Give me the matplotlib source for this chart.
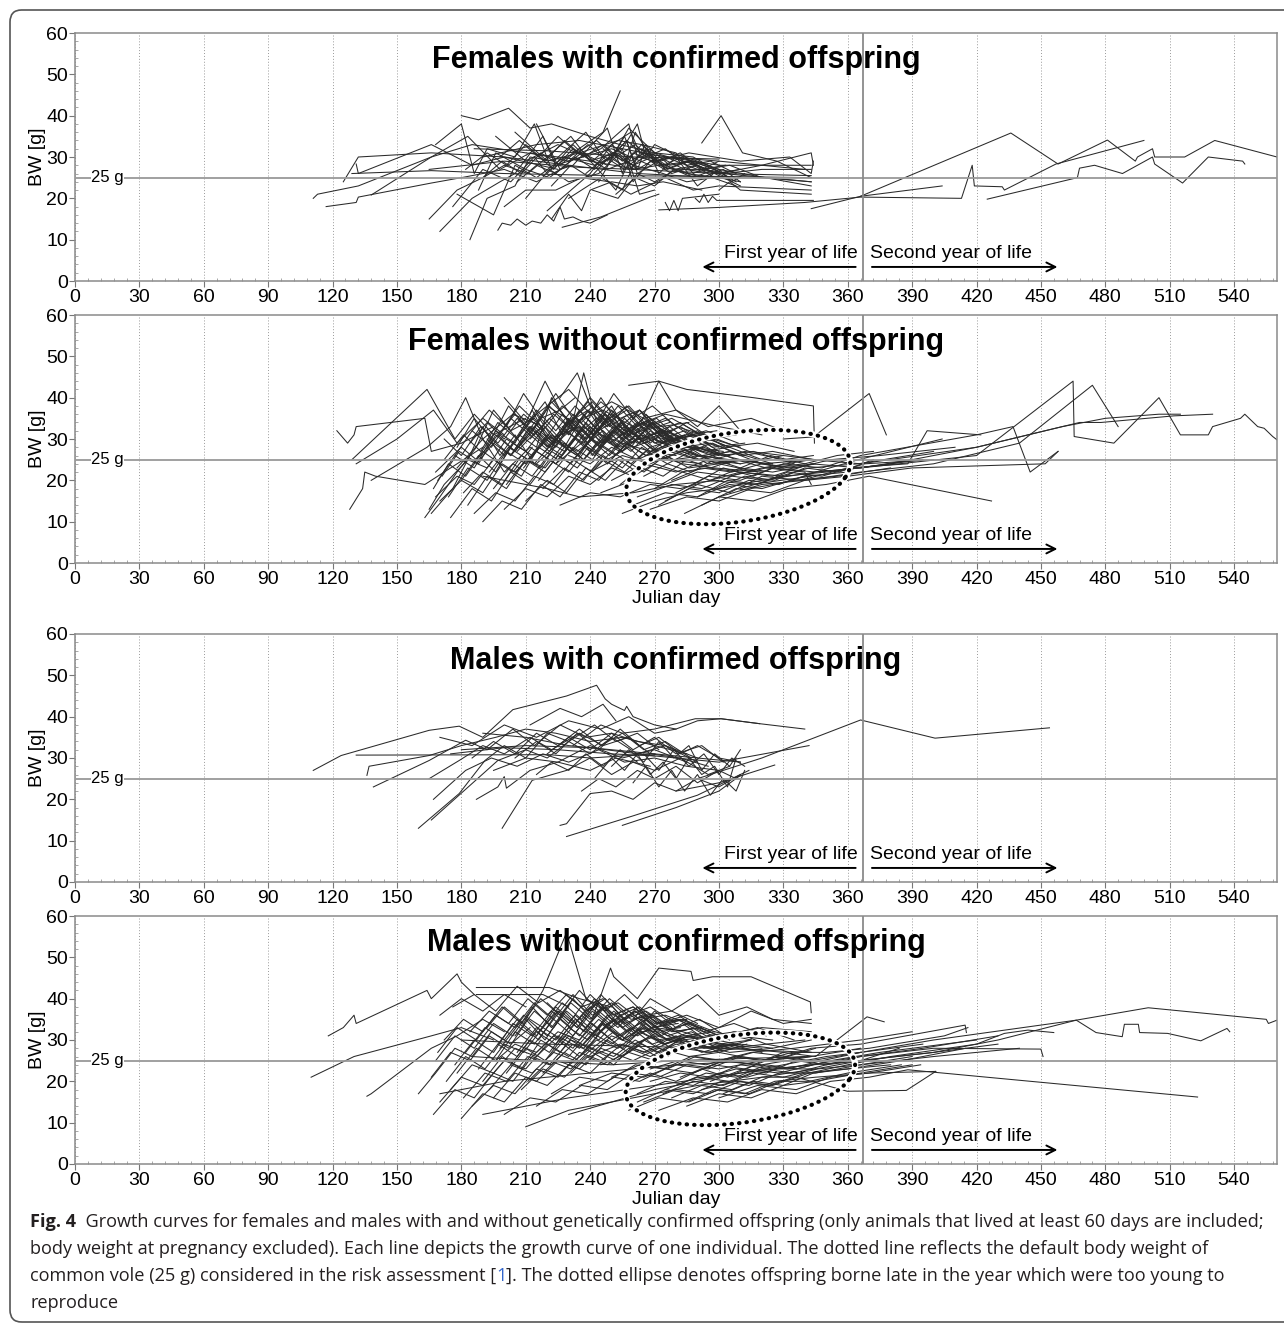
import numpy as np
import matplotlib
matplotlib.use("Agg")
import matplotlib.pyplot as plt
from matplotlib.patches import FancyBboxPatch
from matplotlib.ticker import MultipleLocator

plt.rcParams["font.family"] = ["Liberation Sans", "DejaVu Sans"]

# ---- data: one growth curve per individual, (Julian day, body weight g) ----
females_with = [
    [(111, 20), (113, 21), (132, 23), (166, 30), (185, 33), (210, 31), (240, 29), (262, 27)],
    [(125, 24), (132, 30), (166, 31), (200, 30), (230, 28), (262, 26), (300, 25)],
    [(129, 26), (166, 26.7), (200, 26), (250, 25.5), (300, 25.3), (343, 25)],
    [(117, 18), (131, 19), (132, 20.3), (166, 23.7), (180, 25), (200, 27), (215, 24), (230, 28)],
    [(131, 28.3), (132, 26), (166, 33), (185, 28), (200, 30), (225, 27)],
    [(138, 20.8), (166, 30), (183, 35), (198, 27), (212, 31), (230, 29), (250, 32), (268, 28)],
    [(180, 40), (188, 39), (202, 41.8), (212, 37), (222, 38), (240, 35), (254, 33), (270, 31), (290, 28)],
    [(168, 33), (180, 38), (186, 26), (192, 32), (205, 30), (214, 38), (222, 27), (232, 31), (246, 36), (254, 46)],
    [(197, 12.3), (199, 14), (203, 13.5), (206, 15), (210, 13.5), (213, 14.5), (217, 14), (220, 16),
     (223, 14.5), (226, 17.9), (228, 15), (232, 15.5), (236, 14.5), (240, 14), (248, 16)],
    [(227, 13), (245, 15.5), (268, 20.3), (272, 21)],
    [(272, 17.2), (300, 17.8), (340, 19), (366, 20.3), (413, 20), (418, 28), (419, 23), (432, 22.8),
     (433, 22), (457, 28.3), (498, 34)],
    [(275, 19), (277, 17), (279, 19.5), (281, 17), (283, 20), (300, 21)],
    [(289, 20), (291, 19), (293, 21), (295, 19), (297, 20.5), (299, 19.5), (344, 19.5)],
    [(292, 33.4), (301, 40), (311, 31), (327, 29), (343, 25)],
    [(300, 26), (320, 28), (343, 31), (344, 28)],
    [(343, 17.5), (366, 20.5), (436, 35.8), (458, 28.3), (481, 34.1), (494, 29), (495, 30), (502, 32),
     (503, 30), (517, 30), (531, 34), (560, 30)],
    [(366, 20.5), (404, 23)],
    [(425, 19.8), (467, 25), (468, 27.3), (475, 28), (488, 26), (502, 30), (503, 28.3), (516, 23.7),
     (528, 30), (544, 29), (545, 28.3)],
    [(165, 15), (178, 22), (190, 25), (200, 28), (211, 26), (220, 30), (231, 35), (240, 29), (252, 31),
     (260, 27), (272, 28), (285, 26), (300, 25), (310, 24)],
    [(170, 12), (185, 20), (198, 24), (205, 26), (218, 35), (224, 28), (236, 30), (245, 32), (258, 38),
     (262, 30), (270, 29), (280, 27), (292, 27), (305, 26)],
    [(176, 18), (190, 27), (203, 24), (214, 30), (220, 26), (232, 33), (242, 28), (250, 30), (257, 34),
     (262, 26), (275, 30), (290, 27), (302, 26), (343, 24)],
    [(184, 10), (192, 20), (205, 23), (212, 30), (223, 29), (238, 36), (246, 30), (255, 32), (260, 24),
     (268, 29), (278, 26), (290, 28), (310, 23)],
    [(188, 22), (196, 31), (210, 27), (221, 25), (236, 31), (248, 28), (258, 37), (262, 35), (270, 31),
     (288, 30), (305, 25)],
    [(200, 18), (210, 22), (224, 22), (236, 25), (249, 24), (259, 21), (263, 22), (275, 25), (288, 22),
     (300, 23), (343, 22)],
    [(210, 20), (221, 27), (230, 24), (244, 26), (252, 30), (260, 28), (274, 26), (285, 24), (297, 25), (308, 23)],
    [(165, 27), (200, 29), (235, 27.5), (260, 27), (300, 26), (343, 25.5)],
    [(186, 32), (220, 31.5), (260, 30), (300, 29.5)],
    [(230, 20), (245, 25), (255, 22), (262, 30), (266, 33), (272, 26), (280, 30), (290, 23), (300, 27),
     (306, 24), (312, 26)],
    [(215, 38), (226, 27), (232, 28), (248, 37), (255, 26), (261, 36), (270, 29), (286, 31), (310, 29),
     (333, 30), (343, 26), (344, 29)],
    [(241, 22), (253, 20), (262, 26), (270, 24), (280, 27), (292, 25), (302, 27), (310, 24)],
    [(220, 17), (240, 26), (250, 33), (259, 36), (263, 31), (276, 30), (300, 29), (340, 27)],
    [(196, 35), (210, 29), (225, 33), (238, 30), (248, 27), (258, 29), (263, 21), (270, 22)],
    [(244, 24), (256, 35), (262, 27), (266, 32), (275, 27), (285, 29), (298, 25)],
    [(178, 21), (195, 16), (205, 28), (215, 25), (228, 30), (242, 28), (252, 22), (260, 31), (273, 28)],
    [(254, 31), (262, 38), (266, 30), (270, 33), (278, 31), (290, 29), (300, 27), (343, 23)],
    [(190, 30), (215, 33), (235, 34), (270, 30.5), (300, 28), (343, 28)],
    [(222, 15), (230, 21), (236, 17), (240, 22), (250, 24), (262, 23), (274, 24), (292, 22)],
    [(300, 22), (305, 24), (310, 22), (343, 21)],
    [(205, 36), (220, 29), (235, 31), (253, 34), (264, 33), (280, 31), (288, 26), (300, 29)],
    [(182, 27), (192, 31), (201, 28), (210, 33), (219, 29), (228, 34), (237, 30), (246, 33), (255, 29),
     (264, 32), (274, 28), (286, 29), (300, 27)],
    [(190, 25), (199, 29), (208, 26), (217, 31), (226, 28), (235, 32), (244, 28), (253, 31), (262, 27),
     (272, 30), (284, 27), (298, 26)],
    [(198, 30), (207, 34), (216, 30), (225, 35), (234, 31), (243, 34), (252, 30), (261, 33), (270, 29),
     (281, 30), (295, 28)],
    [(206, 24), (215, 28), (224, 26), (233, 30), (242, 27), (251, 31), (260, 28), (269, 30), (279, 27),
     (290, 28), (304, 25)],
    [(214, 31), (223, 27), (232, 32), (241, 29), (250, 33), (259, 29), (268, 32), (277, 28), (288, 29),
     (302, 26), (320, 27), (343, 27)],
    [(222, 23), (231, 28), (240, 25), (249, 30), (258, 27), (267, 31), (276, 27), (286, 29), (298, 26), (310, 27)],
    [(230, 29), (239, 33), (248, 29), (257, 34), (266, 30), (275, 32), (285, 28), (296, 29), (308, 26)],
    [(238, 26), (247, 30), (256, 27), (265, 31), (274, 28), (283, 30), (293, 27), (305, 28), (320, 25), (343, 24)],
    [(246, 32), (255, 28), (264, 33), (273, 29), (282, 31), (292, 27), (303, 28)],
    [(252, 21), (261, 25), (270, 23), (279, 27), (288, 25), (298, 27), (308, 24)],
]

females_without = [
    [(122, 32), (127, 29), (130, 31), (131, 33), (163, 35), (166, 27), (180, 29), (195, 33)],
    [(128, 13), (134, 18), (135, 22), (140, 21), (163, 19), (178, 24), (190, 28)],
    [(129, 25), (164, 42), (177, 30), (186, 36), (195, 31), (210, 35)],
    [(138, 20), (164, 28), (175, 33), (182, 40), (190, 30), (204, 36), (218, 33)],
    [(131, 24), (150, 30), (167, 37), (178, 29), (190, 35), (200, 31)],
    [(163, 11), (170, 16), (178, 22), (187, 28), (195, 37), (203, 32), (214, 35), (222, 30), (235, 33), (243, 29)],
    [(165, 13), (172, 19), (183, 25), (192, 23), (201, 30), (210, 27), (219, 33), (228, 28), (237, 36),
     (245, 31), (255, 29), (268, 27), (280, 26)],
    [(166, 12), (176, 18), (184, 26), (190, 33), (198, 26), (205, 31), (214, 24), (224, 30), (234, 27),
     (246, 32), (254, 28), (263, 30), (276, 25), (292, 24)],
    [(167, 18), (174, 24), (182, 21), (190, 27), (198, 24), (207, 31), (215, 28), (222, 40), (230, 34),
     (239, 37), (248, 30), (256, 35), (264, 31), (275, 29), (290, 26)],
    [(168, 22), (180, 28), (187, 25), (196, 32), (205, 29), (213, 37), (220, 30), (231, 32), (237, 46),
     (243, 34), (250, 38), (258, 31), (270, 33), (285, 30)],
    [(170, 15), (180, 20), (190, 17), (199, 24), (208, 21), (216, 28), (225, 25), (234, 31), (243, 27),
     (252, 33), (262, 29), (272, 31), (285, 28), (300, 26)],
    [(172, 25), (181, 31), (189, 27), (197, 34), (206, 30), (215, 36), (224, 29), (233, 33), (241, 26),
     (250, 32), (259, 28), (268, 34), (278, 30), (292, 27)],
    [(175, 11), (185, 18), (194, 15), (203, 22), (212, 19), (221, 25), (230, 22), (239, 28), (248, 24),
     (257, 29), (266, 26), (277, 27), (290, 25), (305, 24)],
    [(178, 28), (186, 35), (194, 30), (202, 38), (210, 33), (219, 39), (227, 31), (236, 35), (245, 29),
     (254, 34), (263, 30), (273, 32), (283, 29)],
    [(180, 20), (188, 26), (196, 22), (204, 29), (213, 26), (222, 31), (231, 27), (240, 33), (249, 29),
     (258, 32), (268, 28), (280, 30), (295, 27), (310, 25)],
    [(183, 14), (192, 21), (201, 18), (210, 25), (219, 23), (228, 29), (237, 25), (246, 31), (255, 27),
     (264, 33), (273, 29), (285, 31), (300, 28)],
    [(185, 32), (193, 37), (201, 33), (209, 41), (217, 35), (226, 37), (234, 31), (243, 35), (252, 30),
     (262, 34), (272, 29), (284, 31)],
    [(187, 24), (195, 29), (203, 26), (212, 33), (220, 28), (229, 34), (238, 30), (247, 36), (256, 31),
     (265, 35), (275, 30), (288, 28), (305, 26)],
    [(190, 10), (199, 15), (208, 13), (217, 19), (226, 16), (235, 22), (244, 20), (253, 25), (262, 22),
     (272, 26), (283, 24), (298, 23), (320, 22)],
    [(192, 30), (200, 26), (209, 33), (218, 29), (227, 36), (236, 32), (245, 40), (254, 33), (263, 37),
     (272, 31), (282, 33), (295, 29)],
    [(195, 18), (204, 24), (213, 21), (222, 27), (231, 24), (240, 30), (249, 26), (258, 31), (268, 27),
     (278, 29), (290, 26), (305, 25), (325, 24)],
    [(198, 35), (206, 30), (215, 37), (224, 32), (233, 38), (242, 33), (251, 41), (260, 35), (269, 38),
     (280, 33), (293, 31)],
    [(200, 13), (210, 18), (220, 16), (230, 21), (240, 19), (250, 23), (260, 21), (270, 24), (282, 22),
     (295, 23), (310, 22), (330, 21)],
    [(203, 26), (212, 31), (221, 27), (230, 34), (239, 29), (248, 35), (257, 30), (266, 36), (275, 31),
     (285, 34), (297, 30), (310, 28)],
    [(205, 22), (215, 27), (224, 24), (233, 30), (242, 26), (251, 32), (260, 28), (270, 30), (281, 27),
     (293, 28), (308, 25)],
    [(208, 29), (217, 35), (226, 30), (235, 37), (244, 32), (253, 38), (262, 33), (271, 35), (281, 30),
     (294, 32), (309, 29)],
    [(210, 15), (220, 20), (229, 17), (238, 23), (247, 20), (256, 25), (265, 22), (275, 26), (286, 23),
     (300, 24), (318, 22)],
    [(213, 33), (222, 28), (231, 35), (240, 30), (249, 36), (258, 31), (267, 34), (276, 29), (288, 31), (300, 27)],
    [(215, 24), (225, 29), (234, 26), (243, 32), (252, 28), (261, 33), (270, 29), (280, 31), (292, 27),
     (305, 28), (320, 25)],
    [(218, 18), (228, 23), (237, 20), (246, 26), (255, 23), (264, 28), (273, 25), (283, 27), (295, 24),
     (310, 25), (330, 23)],
    [(258, 43), (272, 44), (285, 42), (316, 40), (344, 38), (344.5, 29)],
    [(265, 36), (272, 44), (280, 37), (290, 33), (300, 38), (310, 32)],
    [(220, 38), (230, 42), (240, 36), (250, 39), (265, 35), (280, 37), (295, 33), (315, 35), (330, 32), (343, 31)],
    [(226, 40), (234, 46), (240, 38), (248, 33)],
    [(212, 36), (219, 44), (226, 37), (233, 40)],
    [(330, 30), (344, 30.5), (370, 41), (378, 31)],
    [(255, 12), (270, 15), (285, 17), (300, 18), (320, 20), (345, 22), (366, 23), (390, 25)],
    [(260, 14), (275, 17), (290, 16), (305, 19), (320, 18), (340, 21), (360, 22)],
    [(262, 16), (278, 19), (292, 18), (306, 21), (322, 20), (342, 23), (365, 24), (400, 27)],
    [(268, 13), (285, 16), (300, 15), (315, 18), (335, 20), (355, 21), (380, 23)],
    [(270, 18), (283, 22), (296, 20), (310, 23), (325, 22), (345, 24)],
    [(275, 15), (290, 19), (305, 17), (320, 21), (338, 20), (360, 23), (388, 24), (397, 32), (422, 31)],
    [(280, 17), (295, 21), (310, 20), (325, 23), (345, 22), (365, 25), (404, 30)],
    [(284, 12), (300, 16), (316, 15), (332, 18), (350, 19), (370, 21), (427, 15)],
    [(288, 19), (302, 23), (316, 21), (330, 24), (348, 23), (366, 26), (420, 31), (437, 33), (445, 22), (458, 27)],
    [(292, 14), (308, 18), (324, 17), (340, 20), (360, 21), (390, 23), (452, 24), (458, 27)],
    [(296, 20), (310, 22), (325, 21), (343, 24), (366, 23), (420, 26), (465, 44), (465.5, 30.6), (484, 29),
     (505, 40), (515, 31), (528, 31), (530, 33), (543, 35), (545, 36), (551, 33), (554, 32.6), (558, 30.6), (562, 29)],
    [(300, 16), (320, 19), (340, 20), (366, 22), (400, 24), (440, 29), (474, 43), (486, 33)],
    [(305, 21), (320, 23), (343, 25), (366, 24), (420, 28), (468, 34), (478, 34), (512, 35.6), (530, 36)],
    [(310, 18), (330, 21), (350, 22), (380, 24), (420, 28), (460, 33), (480, 35), (505, 36), (515, 36)],
    [(250, 20), (265, 24), (280, 22), (295, 25), (310, 24), (330, 26), (345, 25)],
    [(245, 17), (260, 20), (275, 19), (290, 22), (305, 21), (322, 23), (340, 22), (343, 19)],
    [(240, 22), (255, 26), (268, 24), (282, 27), (297, 25), (312, 27), (330, 25), (344, 26)],
    [(226, 14), (240, 17), (254, 16), (268, 19), (282, 18), (296, 20), (315, 19), (343, 21)],
    [(190, 21), (220, 18), (235, 16), (260, 17), (280, 19), (300, 20)],
    [(178, 23), (190, 30), (200, 22), (212, 28), (224, 24), (236, 29), (248, 25), (258, 28), (266, 24)],
    [(172, 30), (180, 26), (189, 33), (197, 29), (206, 35), (214, 31), (223, 36), (232, 32), (241, 38),
     (249, 33), (258, 36), (267, 31), (278, 32)],
    [(169, 20), (177, 26), (186, 23), (194, 30), (203, 26), (212, 33), (221, 28), (230, 35), (238, 30),
     (247, 36), (256, 32), (265, 34), (277, 30), (290, 31), (305, 28)],
    [(230, 26), (240, 24), (250, 28), (262, 25), (275, 28), (290, 25), (305, 27), (320, 24), (344, 25)],
    [(200, 40), (210, 34), (220, 38), (232, 34), (246, 37), (260, 33), (275, 36), (300, 33), (320, 31)],
    [(171, 21), (179, 27), (188, 24), (196, 31), (205, 27), (214, 34), (223, 29), (232, 35), (241, 30),
     (250, 37), (259, 32), (268, 35), (279, 31)],
    [(174, 16), (183, 23), (192, 20), (201, 27), (210, 24), (219, 30), (228, 27), (237, 33), (246, 29),
     (255, 34), (264, 30), (274, 32), (288, 29)],
    [(177, 26), (185, 32), (194, 28), (203, 35), (212, 31), (221, 38), (230, 33), (239, 39), (248, 34),
     (257, 37), (266, 32), (277, 34)],
    [(181, 17), (190, 22), (199, 19), (208, 26), (217, 23), (226, 30), (235, 26), (244, 33), (253, 28),
     (262, 31), (272, 27), (286, 28), (302, 25)],
    [(184, 29), (192, 34), (200, 30), (209, 36), (218, 32), (227, 38), (236, 34), (245, 39), (254, 35),
     (263, 37), (273, 33), (286, 34)],
    [(186, 12), (196, 17), (205, 15), (214, 21), (223, 19), (232, 25), (241, 22), (250, 27), (259, 24),
     (268, 28), (279, 25), (293, 26), (310, 24)],
    [(189, 26), (197, 31), (205, 27), (214, 33), (223, 29), (232, 36), (241, 31), (250, 34), (259, 29),
     (268, 33), (278, 29), (292, 30)],
    [(193, 22), (202, 28), (211, 25), (220, 31), (229, 28), (238, 34), (247, 29), (256, 33), (265, 29),
     (275, 31), (287, 28), (302, 27)],
    [(197, 31), (205, 36), (213, 32), (222, 39), (231, 34), (240, 40), (249, 35), (258, 38), (267, 33),
     (278, 35), (292, 31)],
    [(201, 19), (210, 25), (219, 22), (228, 28), (237, 25), (246, 30), (255, 27), (264, 31), (274, 28),
     (286, 29), (300, 26)],
    [(206, 27), (215, 32), (224, 28), (233, 35), (242, 31), (251, 36), (260, 31), (269, 34), (279, 30),
     (291, 31), (305, 28)],
    [(209, 23), (218, 29), (227, 26), (236, 32), (245, 28), (254, 33), (263, 29), (272, 32), (283, 28),
     (296, 29), (312, 26)],
    [(212, 30), (221, 35), (230, 31), (239, 37), (248, 33), (257, 38), (266, 33), (275, 35), (286, 31), (299, 32)],
    [(216, 20), (225, 26), (234, 23), (243, 29), (252, 26), (261, 31), (270, 27), (280, 30), (292, 26),
     (306, 27), (325, 24)],
    [(219, 27), (228, 32), (237, 29), (246, 35), (255, 30), (264, 34), (273, 30), (284, 32), (297, 28), (312, 29)],
    [(223, 22), (232, 28), (241, 25), (250, 31), (259, 27), (268, 32), (277, 28), (288, 30), (301, 26),
     (316, 27), (335, 24)],
    [(227, 33), (236, 29), (245, 36), (254, 31), (263, 37), (272, 32), (282, 34), (294, 30), (308, 31)],
    [(232, 25), (241, 30), (250, 27), (259, 33), (268, 29), (277, 33), (287, 29), (299, 30), (314, 27), (330, 26)],
    [(236, 20), (246, 25), (256, 22), (266, 27), (276, 24), (287, 27), (299, 24), (313, 25), (330, 23), (344, 24)],
    [(242, 28), (251, 33), (260, 29), (269, 34), (279, 30), (290, 32), (303, 28), (318, 29), (335, 27)],
    [(248, 24), (257, 29), (266, 26), (276, 30), (286, 27), (297, 29), (310, 26), (325, 27), (344, 25)],
    [(254, 19), (264, 23), (274, 21), (285, 25), (296, 23), (308, 25), (322, 23), (340, 24)],
    [(265, 21), (276, 24), (287, 22), (298, 25), (310, 23), (324, 26), (340, 24), (355, 26), (372, 27)],
    [(272, 14), (286, 18), (300, 17), (314, 20), (328, 19), (345, 22), (365, 23), (395, 25)],
    [(278, 20), (292, 23), (306, 22), (320, 24), (336, 23), (352, 25), (375, 26), (410, 28)],
    [(290, 16), (304, 20), (318, 19), (332, 22), (348, 21), (368, 24), (400, 25)],
    [(298, 18), (312, 21), (326, 20), (340, 23), (356, 22), (372, 25)],
    [(168, 16), (178, 21), (186, 19), (195, 25), (204, 22), (213, 28)],
    [(200, 33), (207, 38), (215, 34), (224, 41), (232, 35), (241, 39), (250, 34)],
]

males_with = [
    [(111, 27), (124, 30.6), (165, 36.7), (179, 37.7), (190, 35), (204, 41.7), (229, 45), (243, 47.6),
     (247, 44.3), (250, 43), (256, 41.5), (257, 42.5), (260, 40), (270, 38), (280, 37)],
    [(131, 30.7), (221, 30.8), (240, 30), (270, 31)],
    [(136, 25.8), (137, 28), (165, 30.6), (180, 33), (196, 35), (210, 37), (224, 36), (240, 34), (255, 35),
     (270, 33), (285, 31)],
    [(139, 23), (165, 29.4), (182, 34.3), (192, 32), (204, 37), (214, 33), (226, 38), (238, 35), (250, 36),
     (262, 34), (275, 33), (290, 30)],
    [(165, 25), (179, 29.4), (190, 33), (200, 31), (212, 35), (222, 32), (235, 36), (246, 33), (258, 35),
     (268, 31), (282, 30), (295, 28)],
    [(160, 13), (179, 21.4), (191, 29.4), (200, 33), (210, 30), (220, 36), (230, 34), (242, 38), (252, 34),
     (262, 36), (272, 32)],
    [(166, 15), (197, 29.4), (210, 32), (220, 30), (230, 34), (240, 31), (250, 35), (262, 31), (275, 33), (290, 29)],
    [(167, 20), (182, 27), (194, 30), (206, 28), (218, 31), (230, 29), (244, 32), (256, 29), (270, 30),
     (285, 28), (300, 27)],
    [(187, 20), (197, 23), (200, 25.5), (201, 22.7), (212, 27), (225, 29), (240, 27), (252, 30), (268, 28)],
    [(199, 13), (213, 24.6), (229, 27), (240, 30), (250, 26), (260, 29), (270, 27), (282, 30), (295, 26), (305, 28)],
    [(226, 13.7), (229, 14.1), (240, 21.4), (250, 22), (260, 20), (270, 24), (280, 22), (290, 25), (300, 23), (310, 26)],
    [(229, 11), (260, 16), (290, 21), (314, 27)],
    [(255, 13.7), (280, 18), (300, 22), (310, 25.8)],
    [(170, 35), (185, 33), (200, 38), (215, 35), (230, 39), (245, 37), (258, 40), (270, 36), (280, 37),
     (290, 39), (301, 39.5), (319, 38.3)],
    [(205, 30), (215, 34), (224, 31), (234, 36), (244, 32), (254, 37), (263, 33), (272, 35), (282, 31),
     (290, 33), (300, 30), (310, 29)],
    [(190, 36), (210, 35), (230, 33), (250, 32), (270, 31), (290, 30), (310, 29)],
    [(180, 32), (210, 33), (240, 32.5), (270, 30.5), (300, 29), (342, 33)],
    [(242, 25), (250, 30), (256, 27), (262, 31), (268, 26), (274, 29), (280, 25), (286, 30), (292, 26),
     (298, 28), (304, 23), (308, 30)],
    [(260, 24), (266, 28), (272, 23), (278, 27), (284, 22), (290, 26), (296, 21), (302, 25), (308, 22), (312, 27)],
    [(250, 28), (258, 32), (265, 29), (272, 34), (279, 30), (286, 33), (292, 27), (298, 31), (305, 28), (310, 32)],
    [(236, 22), (244, 25), (252, 23), (262, 27), (270, 25), (280, 28), (290, 24), (300, 27), (308, 25)],
    [(232, 33), (245, 38), (255, 36), (270, 37), (289, 39.5), (301, 39.5), (319, 38.3), (340, 37)],
    [(290, 25), (320, 30), (366, 39.2), (400.7, 34.8), (454, 37.3)],
    [(280, 22), (300, 24), (326, 28.3)],
    [(212, 38), (226, 42), (236, 40), (246, 43), (252, 39)],
    [(175, 31), (200, 32.5), (225, 32), (250, 31), (270, 30.5)],
    [(215, 26), (222, 29), (230, 27), (238, 31), (246, 28), (254, 32), (262, 29)],
    [(185, 30), (195, 34), (205, 31), (215, 36), (225, 33), (235, 37), (245, 33), (255, 36), (265, 32),
     (275, 34), (287, 30)],
    [(220, 31), (230, 35), (240, 32), (250, 36), (260, 32), (270, 35), (280, 31), (292, 33), (302, 29)],
    [(265, 31), (272, 27), (279, 32), (286, 28), (293, 31), (300, 26), (306, 30), (312, 28)],
    [(195, 27), (210, 30), (225, 29), (240, 33), (255, 30), (270, 32), (285, 29)],
]

males_without = [
    [(118, 31), (125, 33), (130, 36), (131, 34), (164, 42), (166, 40), (178, 46), (180, 44), (186, 41)],
    [(110, 21), (130, 26), (166, 31), (180, 33), (195, 30)],
    [(136, 16.4), (138, 17), (166, 28), (178, 31), (190, 35), (200, 32)],
    [(166, 21), (175, 27), (184, 25), (193, 31), (202, 28), (211, 35), (220, 31), (229, 37), (238, 33),
     (247, 38), (256, 34), (266, 36), (278, 32), (292, 33)],
    [(167, 12), (177, 18), (186, 16), (195, 22), (204, 20), (213, 26), (222, 24), (232, 29), (241, 27),
     (250, 31), (260, 29), (271, 31), (285, 29), (300, 28)],
    [(168, 25), (177, 31), (186, 28), (195, 34), (204, 31), (213, 38), (222, 33), (231, 39), (240, 35),
     (249, 40), (258, 36), (268, 38), (280, 34)],
    [(170, 15), (180, 21), (190, 19), (200, 25), (210, 23), (220, 29), (230, 26), (240, 32), (250, 29),
     (260, 33), (271, 30), (284, 31), (300, 29), (320, 28)],
    [(172, 30), (181, 35), (190, 32), (199, 38), (208, 34), (217, 40), (226, 36), (235, 42), (244, 37),
     (253, 39), (263, 35), (275, 36), (290, 33)],
    [(175, 18), (185, 24), (195, 22), (205, 28), (215, 26), (225, 31), (235, 28), (245, 34), (255, 30),
     (265, 33), (276, 30), (290, 31), (308, 29)],
    [(178, 22), (187, 28), (196, 25), (205, 32), (214, 29), (223, 35), (232, 31), (241, 37), (250, 33),
     (259, 36), (269, 32), (282, 33)],
    [(180, 11), (190, 17), (200, 15), (210, 21), (220, 19), (230, 24), (240, 22), (250, 27), (260, 25),
     (272, 28), (286, 26), (300, 27), (320, 25)],
    [(182, 27), (191, 33), (200, 30), (209, 36), (218, 33), (227, 39), (236, 35), (245, 41), (254, 36),
     (263, 38), (273, 34), (285, 35)],
    [(185, 14), (195, 19), (205, 17), (215, 23), (225, 21), (235, 27), (245, 25), (255, 29), (265, 27),
     (276, 30), (290, 28), (306, 29)],
    [(187, 42.7), (221, 42.7), (235, 40), (250, 38)],
    [(187, 41), (218, 41), (230, 38)],
    [(190, 20), (199, 26), (208, 23), (217, 30), (226, 27), (235, 33), (244, 30), (253, 35), (262, 31),
     (272, 34), (284, 31), (298, 32), (315, 30)],
    [(192, 33), (200, 38), (209, 34), (218, 42), (229, 56), (238, 40), (247, 37), (256, 41), (266, 36),
     (278, 37), (290, 34)],
    [(195, 16), (205, 22), (215, 20), (225, 25), (235, 23), (245, 28), (255, 26), (265, 30), (276, 27),
     (290, 29), (305, 27), (325, 28)],
    [(198, 28), (207, 34), (216, 30), (225, 37), (234, 33), (243, 39), (252, 34), (261, 37), (271, 33),
     (283, 35), (298, 32)],
    [(200, 12), (212, 16), (224, 15), (236, 19), (248, 18), (260, 22), (272, 21), (285, 24), (300, 23),
     (320, 25), (340, 26)],
    [(203, 24), (212, 30), (221, 27), (230, 33), (239, 30), (248, 36), (257, 32), (266, 35), (276, 31),
     (288, 33), (302, 30)],
    [(205, 31), (214, 37), (223, 33), (232, 40), (241, 35), (249.5, 47.4), (251, 45.3), (262, 40),
     (272, 47.4), (287, 46.6), (288, 44.4), (297, 45.3), (315, 45.3), (342.6, 39.2), (343, 36.6)],
    [(208, 18), (218, 23), (228, 21), (238, 26), (248, 24), (258, 28), (268, 26), (280, 29), (294, 27),
     (310, 28), (330, 27)],
    [(210, 35), (219, 30), (228, 37), (237, 32), (246, 38), (255, 33), (264, 36), (274, 32), (286, 34),
     (300, 31), (320, 33), (343, 32)],
    [(213, 26), (223, 31), (232, 28), (241, 34), (250, 30), (259, 33), (269, 29), (280, 31), (293, 28), (308, 29)],
    [(215, 14), (227, 18), (239, 17), (251, 21), (263, 20), (275, 23), (288, 22), (302, 25), (320, 24),
     (343, 26), (366, 28)],
    [(218, 22), (228, 27), (238, 24), (248, 30), (258, 27), (268, 31), (278, 28), (290, 30), (305, 28),
     (322, 29), (343, 27)],
    [(220, 39), (230, 34), (240, 41), (250, 36), (260, 38), (272, 34), (285, 36), (300, 33), (315, 37),
     (330, 34), (343, 35)],
    [(222, 17), (235, 21), (248, 20), (261, 24), (274, 23), (287, 26), (300, 25), (315, 27), (335, 28),
     (366, 30), (390, 32)],
    [(225, 30), (235, 26), (245, 32), (255, 28), (265, 33), (275, 29), (287, 31), (300, 28), (315, 30)],
    [(230, 12), (250, 15), (270, 18), (290, 20), (310, 22), (330, 24), (350, 26), (366, 27)],
    [(235, 19), (250, 22), (265, 21), (280, 24), (295, 23), (310, 26), (325, 25), (343, 28), (366, 29),
     (414.7, 33.6), (415.3, 31.8)],
    [(258, 13), (272, 16), (285, 15), (298, 18), (312, 17), (326, 20), (345, 21), (370, 22), (401, 22.4)],
    [(262, 17), (275, 20), (288, 19), (300, 22), (313, 21), (327, 23), (345, 23), (366, 25), (384, 28)],
    [(265, 15), (280, 18), (295, 17), (310, 20), (325, 19), (342, 22), (360, 24), (380, 26), (420, 29),
     (433, 31.6), (444, 32.4), (456, 31.8)],
    [(268, 20), (282, 22), (296, 21), (310, 24), (325, 23), (343, 24), (366, 26), (400, 28), (450, 27.8), (451, 26)],
    [(272, 13), (288, 16), (304, 15), (320, 18), (336, 17), (352, 20), (370, 21), (388, 22.8), (523, 16.2)],
    [(275, 18), (290, 21), (305, 20), (320, 23), (335, 22), (350, 24), (365, 25), (400, 27), (430, 30),
     (466.5, 34.8), (500, 37.8), (555, 35), (556, 34), (560, 34.8)],
    [(278, 16), (292, 19), (306, 18), (320, 21), (336, 21), (359.8, 17.6), (387.3, 17.8), (401, 22.4)],
    [(282, 21), (297, 24), (312, 23), (327, 26), (343, 25), (366, 27), (400, 30), (466.5, 34.8), (475.7, 31.8),
     (487.9, 30.8), (488.9, 33.8), (495.4, 33.8), (496, 31.8), (509, 31.6), (524.5, 29.8), (536.7, 32.8), (538, 32)],
    [(285, 14), (300, 17), (315, 16), (330, 19), (345, 20), (366, 22), (390, 24)],
    [(288, 22), (302, 25), (316, 24), (330, 27), (345, 26), (369, 35.6), (377, 34.4)],
    [(292, 18), (308, 20), (324, 19), (340, 22), (360, 23), (385, 25), (415, 28)],
    [(296, 20), (312, 23), (328, 22), (344, 24), (366, 25), (400, 27), (430, 29)],
    [(300, 16), (318, 19), (336, 18), (352, 21), (370, 22), (394, 24)],
    [(245, 24), (258, 27), (270, 25), (283, 28), (296, 27), (310, 29), (325, 28), (343, 30)],
    [(250, 21), (263, 24), (276, 23), (289, 26), (302, 25), (316, 27), (332, 26), (345, 28)],
    [(240, 26), (254, 29), (266, 27), (280, 30), (294, 29), (308, 31), (325, 30)],
    [(185, 26), (215, 25), (250, 24), (280, 25), (310, 25.5), (343, 26)],
    [(180, 30), (220, 29), (260, 28.5), (300, 28), (343, 27)],
    [(170, 17), (200, 20), (240, 22), (280, 24), (320, 25), (343, 26)],
    [(190, 12), (230, 16), (270, 19), (310, 22), (343, 24)],
    [(196, 25), (205, 29), (215, 27), (225, 32), (235, 30), (244, 35), (254, 31), (263, 34), (272, 31)],
    [(260, 35), (268, 40), (278, 37), (290, 41), (300, 36), (313, 38), (325, 35), (343, 34)],
    [(176, 38), (186, 41), (196, 37), (206, 43), (216, 39), (226, 42), (236, 38), (246, 40)],
    [(210, 9), (230, 13), (250, 15), (270, 17), (290, 19), (320, 21), (345, 23)],
    [(228, 23), (240, 28), (252, 25), (264, 29), (276, 26), (288, 30), (300, 27), (313, 29)],
    [(160, 17), (168, 22), (177, 28), (185, 26), (194, 32), (203, 29), (212, 33)],
    [(169, 27), (178, 33), (187, 30), (196, 36), (205, 33), (214, 39), (223, 35), (232, 41), (241, 36),
     (250, 39), (259, 35), (270, 36)],
    [(173, 20), (182, 26), (191, 23), (200, 29), (209, 27), (218, 33), (227, 30), (236, 36), (245, 32),
     (254, 36), (264, 32), (276, 33), (290, 31)],
    [(177, 24), (186, 30), (195, 27), (204, 34), (213, 31), (222, 37), (231, 33), (240, 38), (249, 34),
     (258, 37), (268, 33), (281, 34)],
    [(181, 16), (191, 22), (201, 20), (211, 26), (221, 24), (231, 30), (241, 28), (251, 32), (261, 29),
     (272, 32), (285, 29), (300, 30)],
    [(184, 32), (193, 37), (202, 34), (211, 40), (220, 36), (229, 41), (238, 37), (247, 40), (256, 35),
     (266, 37), (278, 33)],
    [(188, 23), (197, 29), (206, 26), (215, 32), (224, 29), (233, 35), (242, 31), (251, 35), (260, 31),
     (270, 33), (283, 30), (298, 31)],
    [(193, 18), (203, 24), (213, 22), (223, 27), (233, 25), (243, 30), (253, 28), (263, 32), (274, 29),
     (287, 31), (302, 29)],
    [(197, 29), (206, 35), (215, 31), (224, 38), (233, 34), (242, 40), (251, 36), (260, 38), (270, 34),
     (282, 35), (296, 32)],
    [(201, 22), (210, 28), (219, 25), (228, 31), (237, 28), (246, 34), (255, 30), (264, 33), (274, 29),
     (286, 31), (300, 28)],
    [(206, 27), (215, 33), (224, 30), (233, 36), (242, 32), (251, 37), (260, 33), (269, 36), (279, 32),
     (291, 33), (305, 30)],
    [(211, 20), (221, 25), (231, 23), (241, 28), (251, 26), (261, 30), (271, 27), (282, 30), (295, 28), (310, 29)],
    [(216, 32), (225, 37), (234, 33), (243, 39), (252, 34), (261, 37), (270, 33), (281, 35), (294, 31), (308, 32)],
    [(221, 26), (230, 31), (239, 28), (248, 34), (257, 30), (266, 34), (276, 30), (287, 32), (300, 29), (315, 30)],
    [(226, 35), (235, 31), (244, 37), (253, 33), (262, 38), (271, 34), (281, 36), (293, 32), (307, 34), (322, 31)],
    [(231, 22), (241, 27), (251, 24), (261, 29), (271, 26), (281, 30), (292, 27), (305, 29), (320, 27)],
    [(237, 29), (246, 34), (255, 30), (264, 35), (273, 31), (283, 34), (294, 30), (307, 32), (322, 29), (340, 30)],
    [(243, 31), (252, 36), (261, 32), (270, 37), (280, 33), (291, 35), (303, 31), (318, 33), (335, 30)],
    [(256, 19), (268, 22), (280, 20), (292, 23), (304, 21), (317, 24), (332, 23), (348, 25), (366, 27), (395, 29)],
    [(262, 15), (275, 18), (288, 17), (301, 20), (314, 19), (328, 22), (345, 22), (366, 24), (390, 26)],
    [(268, 23), (281, 25), (294, 24), (307, 26), (320, 25), (334, 27), (350, 27), (370, 28), (405, 31), (416, 33)],
    [(274, 17), (288, 20), (302, 19), (316, 22), (330, 21), (346, 23), (366, 24), (400, 26), (440, 28)],
    [(280, 19), (294, 22), (308, 21), (322, 24), (336, 23), (352, 25), (375, 27), (420, 30)],
    [(286, 15), (300, 18), (314, 17), (328, 20), (342, 20), (360, 22), (385, 24)],
    [(294, 21), (308, 23), (322, 22), (336, 25), (350, 24), (366, 26), (395, 28), (430, 31)],
    [(302, 17), (316, 20), (330, 19), (344, 22), (360, 23), (380, 24)],
    [(170, 36), (180, 40), (190, 37), (200, 41), (210, 38)],
]

panel_titles = [
    "Females with confirmed offspring",
    "Females without confirmed offspring",
    "Males with confirmed offspring",
    "Males without confirmed offspring",
]
panel_curves = [females_with, females_without, males_with, males_without]
show_xlabel = [False, True, False, True]
# late-born offspring ellipse: centre day, centre BW, half width, half height, shear
ellipses = [None, (309, 20.8, 50, 11.4, 15), None, (310, 20.6, 51, 11.2, 16)]

DEFAULT_BW = 25
YEAR_END = 367
x_ticks = list(range(0, 541, 30))

W, H = 1284, 1330
fig = plt.figure(figsize=(W / 100, H / 100), dpi=100)

# rounded frame round the whole figure
frame = FancyBboxPatch((10 / W, 1 - 1322 / H), 1290 / W, 1312 / H,
                       boxstyle="round,pad=0,rounding_size=0.009",
                       transform=fig.transFigure, fc="none", ec="#555555", lw=1.2)
fig.patches.append(frame)

panel_px = [(33, 281), (315, 563), (634, 882), (916, 1164)]
line_col = "#2a2a2a"

for i, (top, bottom) in enumerate(panel_px):
    ax = fig.add_axes([75 / W, 1 - bottom / H, 1202 / W, (bottom - top) / H])
    for curve in panel_curves[i]:
        d = [p[0] for p in curve]
        bw = [p[1] for p in curve]
        ax.plot(d, bw, color=line_col, lw=0.75, zorder=2)

    ax.set_xlim(0, 560)
    ax.set_ylim(0, 60)
    ax.set_xticks(x_ticks)
    ax.set_yticks(range(0, 61, 10))
    ax.xaxis.set_minor_locator(MultipleLocator(6))
    ax.yaxis.set_minor_locator(MultipleLocator(2))
    ax.tick_params(which="major", direction="out", length=4, color="#777777", labelsize=14)
    ax.tick_params(axis="x", which="major", pad=2)
    ax.tick_params(axis="y", which="major", pad=1)
    ax.tick_params(which="minor", direction="in", length=2, color="#999999")
    for s in ax.spines.values():
        s.set_color("#8a8a8a")
        s.set_linewidth(1.1)
    ax.grid(axis="x", which="major", color="#9a9a9a", lw=0.7, linestyle=(0, (1, 2)), zorder=0)

    ax.axhline(DEFAULT_BW, color="#999999", lw=1.3, zorder=3)
    ax.axvline(YEAR_END, color="#8a8a8a", lw=1.3, zorder=3)
    ax.text(15, DEFAULT_BW, "25 g", ha="center", va="center", fontsize=12, zorder=4,
            bbox=dict(fc="white", ec="none", pad=0.3))

    ax.text(0.5, 53.5, panel_titles[i], transform=ax.get_yaxis_transform(),
            ha="center", va="center", fontsize=22, fontweight="bold")

    ax.annotate("", xy=(291, 3.4), xytext=(365, 3.4),
                arrowprops=dict(arrowstyle="->", lw=1.4, color="black", mutation_scale=16))
    ax.annotate("", xy=(459, 3.4), xytext=(370, 3.4),
                arrowprops=dict(arrowstyle="->", lw=1.4, color="black", mutation_scale=16))
    ax.text(364.5, 6.6, "First year of life", ha="right", va="center", fontsize=14)
    ax.text(370.5, 6.6, "Second year of life", ha="left", va="center", fontsize=14)

    if ellipses[i] is not None:
        cx, cy, a, b, h = ellipses[i]
        t = np.linspace(0, 2 * np.pi, 300)
        ex = cx + a * np.cos(t) + h * np.sin(t)
        ey = cy + b * np.sin(t)
        ax.plot(ex, ey, color="white", lw=4.5, zorder=5)
        ax.plot(ex, ey, color="black", lw=3, linestyle=(0, (0.1, 1.7)),
                dash_capstyle="round", zorder=6)

    ax.set_ylabel("BW [g]", fontsize=14)
    ax.yaxis.set_label_coords(-0.024, 0.5)
    if show_xlabel[i]:
        ax.set_xlabel("Julian day", fontsize=14, labelpad=1)

# caption
cap_col = "#231f20"
cap_lines = [
    [("Fig. 4", "bold", cap_col),
     ("  Growth curves for females and males with and without genetically confirmed offspring "
      "(only animals that lived at least 60 days are included;", "normal", cap_col)],
    [("body weight at pregnancy excluded). Each line depicts the growth curve of one individual. "
      "The dotted line reflects the default body weight of", "normal", cap_col)],
    [("common vole (25 g) considered in the risk assessment [", "normal", cap_col),
     ("1", "normal", "#3366cc"),
     ("]. The dotted ellipse denotes offspring borne late in the year which were too young to",
      "normal", cap_col)],
    [("reproduce", "normal", cap_col)],
]
cap_y = [1222, 1249, 1276, 1303]
cap_font = ["Open Sans", "DejaVu Sans"]

renderer = fig.canvas.get_renderer()


def draw_line(pieces, y_px, size):
    x = 30
    for txt, weight, col in pieces:
        t = fig.text(x / W, 1 - y_px / H, txt, fontsize=size, fontweight=weight, color=col,
                     family=cap_font, ha="left", va="center")
        bb = t.get_window_extent(renderer)
        x = bb.x1
    return x


# fit the first line to the reference width
probe = fig.text(0, 0, "".join(p[0] for p in cap_lines[0]), fontsize=14, family=cap_font)
w14 = probe.get_window_extent(renderer).width
probe.remove()
cap_size = 14 * 1238 / w14

for pieces, y in zip(cap_lines, cap_y):
    draw_line(pieces, y, cap_size)

fig.savefig("out.png", dpi=100)
